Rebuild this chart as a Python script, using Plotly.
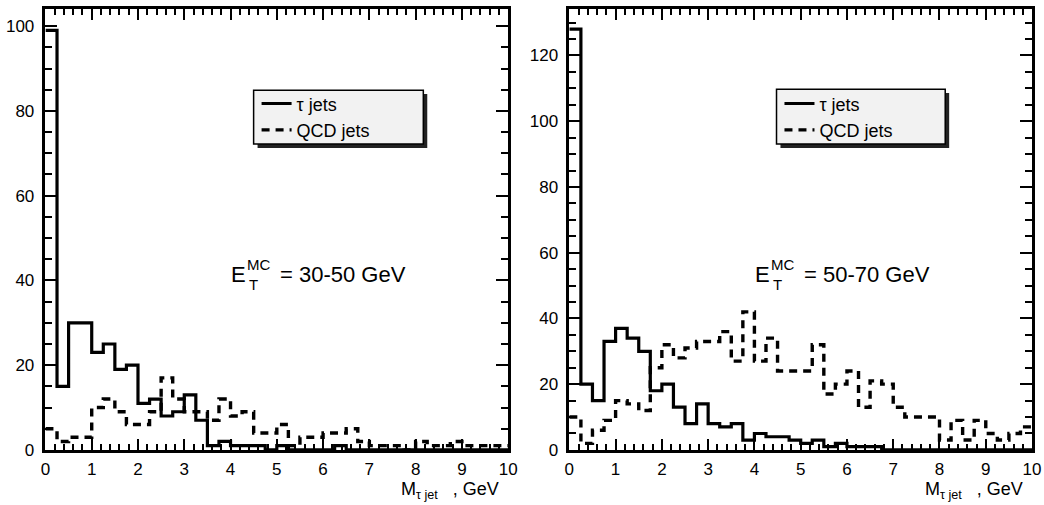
import numpy as np
import plotly.graph_objects as go

# ---------------- data (40 bins of 0.25 GeV from 0 to 10 GeV) ----------------
mass_min, mass_max, n_bins = 0.0, 10.0, 40

tau_30_50 = [99, 15, 30, 30, 23, 25, 19, 20, 11, 12, 8, 9, 13, 7, 1, 2, 1, 1, 1, 0,
             1, 0, 0, 0, 0, 1, 0, 0, 0, 0, 0, 0, 0, 0, 0, 0, 0, 0, 0, 0]
qcd_30_50 = [5, 2, 3, 3, 10, 12, 9, 6, 6, 9, 17, 12, 9, 9, 7, 12, 8, 9, 4, 4,
             6, 1, 3, 3, 4, 4, 5, 2, 1, 1, 1, 0, 2, 1, 1, 2, 1, 1, 1, 1]
tau_50_70 = [128, 20, 15, 33, 37, 34, 30, 18, 20, 13, 8, 14, 8, 7, 8, 3, 5, 4, 4, 3,
             2, 3, 1, 2, 1, 1, 1, 0, 0, 0, 0, 0, 0, 0, 0, 0, 0, 0, 0, 0]
qcd_50_70 = [10, 2, 6, 9, 15, 14, 12, 25, 32, 28, 31, 33, 33, 36, 27, 42, 27, 34, 24, 24,
             24, 32, 17, 20, 24, 13, 21, 20, 13, 10, 10, 10, 3, 9, 3, 9, 5, 3, 5, 7]

series_names = ["\u03c4 jets", "QCD jets"]
panel_labels = ["= 30-50 GeV", "= 50-70 GeV"]
y_max = [104.1, 134.2]

edges = np.linspace(mass_min, mass_max, n_bins + 1)

FA = "Liberation Sans, Arial, Helvetica, sans-serif"
W, H = 1044, 505

def step_y(vals):
    return list(vals) + [vals[-1]]

fig = go.Figure()

panels = [(tau_30_50, qcd_30_50, "x", "y", "legend"),
          (tau_50_70, qcd_50_70, "x2", "y2", "legend2")]
for tau, qcd, xa, ya, lg in panels:
    fig.add_trace(go.Scatter(x=edges, y=step_y(tau), mode="lines", line_shape="hv",
                             line=dict(color="black", width=3.2), name=series_names[0],
                             xaxis=xa, yaxis=ya, legend=lg, showlegend=True))
    fig.add_trace(go.Scatter(x=edges, y=step_y(qcd), mode="lines", line_shape="hv",
                             line=dict(color="black", width=3.4, dash="8px,6px"),
                             name=series_names[1], xaxis=xa, yaxis=ya, legend=lg,
                             showlegend=True))

# panel geometry in pixels
px_x = [(41, 510), (572, 1041)]
px_y = (9, 459)

def xdom(a, b):
    return [a / W, b / W]

ydom = [1 - px_y[1] / H, 1 - px_y[0] / H]

axis_common = dict(showline=True, linewidth=2.5, linecolor="black", mirror="ticks",
                   ticks="inside", tickwidth=2, tickcolor="black", showgrid=False,
                   zeroline=False, tickfont=dict(family=FA, size=17, color="black"))

for i, (xa, ya) in enumerate([("xaxis", "yaxis"), ("xaxis2", "yaxis2")]):
    fig.update_layout({
        xa: dict(axis_common, domain=xdom(*px_x[i]), range=[mass_min, mass_max],
                 tick0=0, dtick=1, ticklen=11, anchor="y" if i == 0 else "y2",
                 ticklabelstandoff=2,
                 minor=dict(dtick=0.2, ticks="inside", ticklen=6, tickwidth=1.5,
                            tickcolor="black", showgrid=False)),
        ya: dict(axis_common, domain=ydom, range=[0, y_max[i]], tick0=0, dtick=20,
                 ticklen=12, anchor="x" if i == 0 else "x2", ticklabelstandoff=5,
                 minor=dict(dtick=5, ticks="inside", ticklen=7, tickwidth=1.5,
                            tickcolor="black", showgrid=False)),
    })

# legends with drop-shadow boxes
legend_px = [(252, 92, 424, 147), (782, 91, 953, 147)]
shapes = []
for (x0, y0, x1, y1) in legend_px:
    shapes.append(dict(type="rect", xref="paper", yref="paper",
                       x0=(x0 + 4) / W, x1=(x1 + 4) / W, y0=1 - (y1 + 4) / H, y1=1 - (y0 + 4) / H,
                       fillcolor="#222222", line=dict(width=0), layer="above"))
    shapes.append(dict(type="rect", xref="paper", yref="paper",
                       x0=x0 / W, x1=x1 / W, y0=1 - y1 / H, y1=1 - y0 / H,
                       fillcolor="#f2f2f2", line=dict(color="black", width=1.5), layer="above"))

legend_style = dict(bgcolor="rgba(0,0,0,0)", borderwidth=0, xanchor="left", yanchor="top",
                    font=dict(family=FA, size=18, color="black"), xref="paper", yref="paper")
fig.update_layout(
    legend=dict(legend_style, x=(legend_px[0][0] + 3) / W, y=1 - 87 / H),
    legend2=dict(legend_style, x=(legend_px[1][0] + 3) / W, y=1 - 87 / H),
)

# annotations: E_T^MC labels and axis titles
annotations = []
for i, (xr, yr) in enumerate([("x domain", "y domain"), ("x2 domain", "y2 domain")]):
    annotations += [
        dict(text="E", x=0.397, y=0.398, xref=xr, yref=yr, xanchor="left", yanchor="middle",
             showarrow=False, font=dict(family=FA, size=22, color="black")),
        dict(text="MC", x=0.431, y=0.42, xref=xr, yref=yr, xanchor="left", yanchor="middle",
             showarrow=False, font=dict(family=FA, size=15, color="black")),
        dict(text="T", x=0.435, y=0.376, xref=xr, yref=yr, xanchor="left", yanchor="middle",
             showarrow=False, font=dict(family=FA, size=15, color="black")),
        dict(text=panel_labels[i], x=0.502, y=0.398, xref=xr, yref=yr, xanchor="left",
             yanchor="middle", showarrow=False, font=dict(family=FA, size=22, color="black")),
        dict(text="M<sub>\u03c4 jet</sub>   , GeV", x=0.984, y=-0.093, xref=xr, yref=yr,
             xanchor="right", yanchor="middle", showarrow=False,
             font=dict(family=FA, size=18, color="black")),
    ]

fig.update_layout(
    width=W, height=H, margin=dict(l=0, r=0, t=0, b=0),
    paper_bgcolor="white", plot_bgcolor="white",
    shapes=shapes, annotations=annotations,
)

fig.write_html("out.html")
